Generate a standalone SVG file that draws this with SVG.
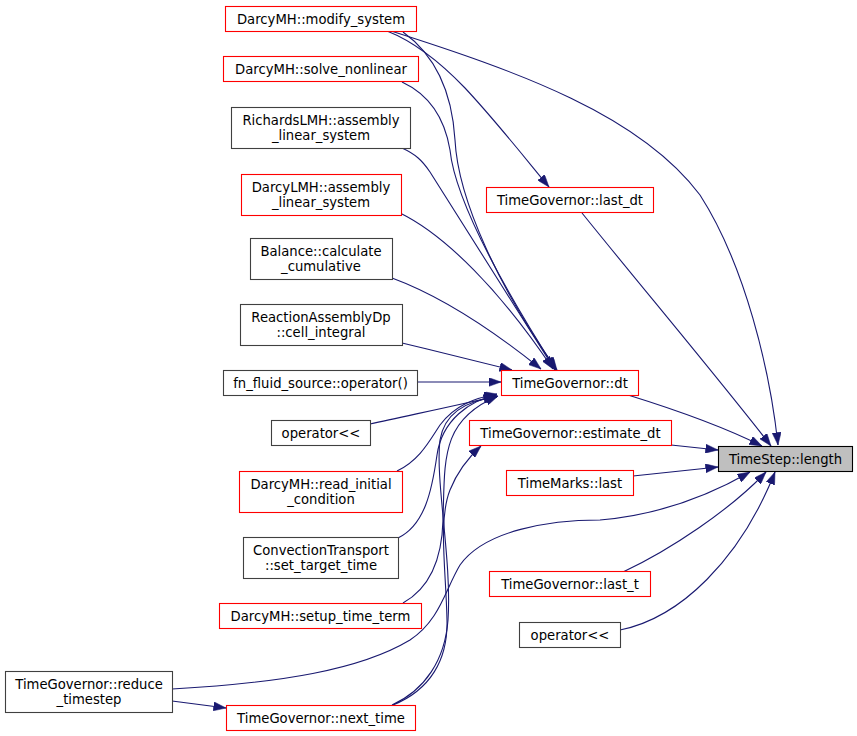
<svg xmlns="http://www.w3.org/2000/svg" width="857" height="736" viewBox="0 0 857 736">
<style>
.bg{fill:#ffffff}
.n rect{fill:#ffffff;stroke:#404040;stroke-width:1.1}
.n.r rect{stroke:#ff0000}
.n.root rect{fill:#bfbfbf;stroke:#000000}
.n text{font-family:"DejaVu Sans","Liberation Sans",sans-serif;font-size:13.2px;fill:#000000;text-anchor:middle}
.e path{fill:none;stroke:#191970;stroke-width:1.1;marker-end:url(#ah)}
</style>
<defs>
<marker id="ah" viewBox="0 0 12.5 9" refX="12.5" refY="4.5" markerWidth="12.5" markerHeight="9" markerUnits="userSpaceOnUse" orient="auto">
<path d="M0,0 L12.5,4.5 L0,9 z" fill="#191970" stroke="#191970" stroke-width="0.5"/>
</marker>
</defs>
<rect class="bg" x="0" y="0" width="857" height="736"/>
<g id="edges" class="e">
<path d="M388,30 C520,72 640,115 700,195 C745,265 770,370 778,445"/>
<path d="M387,31 C415,42 440,62 465,88 C495,120 525,158 549,187"/>
<path d="M403,32 C435,55 452,90 455,140 C458,200 500,290 557,370"/>
<path d="M402,82 C430,95 445,120 450,150 C455,200 505,290 556,370"/>
<path d="M402,148 C415,154 422,160 430,172 L555,370"/>
<path d="M400,213 C445,235 500,290 553,369"/>
<path d="M392,278 C430,292 480,320 541,369"/>
<path d="M402,343 C440,352 480,362 512,370"/>
<path d="M417,382 L501,382"/>
<path d="M370,424 C410,415 460,405 496,396"/>
<path d="M397,471 C420,460 430,440 440,425 C455,405 475,398 497,394"/>
<path d="M398,538 C425,525 432,490 437,455 C442,420 470,400 497,395"/>
<path d="M403,603 C430,588 442,560 443,520 C445,460 440,420 498,396"/>
<path d="M392,705 C425,690 445,660 448,620 C452,560 435,480 440,440 C445,410 470,400 497,397"/>
<path d="M393,705 C430,690 448,660 447,620 C446,570 438,520 450,490 C458,470 470,456 481,446"/>
<path d="M172,701 L226,708"/>
<path d="M172,689 C280,683 360,670 410,640 C440,620 445,590 460,565 C485,530 550,520 600,520 C660,515 710,495 750,472"/>
<path d="M628,395 C670,408 720,425 762,446"/>
<path d="M582,213 C640,285 720,380 771,446"/>
<path d="M671,445 L718,450"/>
<path d="M633,476 L718,467"/>
<path d="M623,572 C670,550 730,510 766,472"/>
<path d="M620,630 C680,618 740,560 775,472"/>
</g>
<g id="n_length" class="n root"><rect x="718.5" y="446.5" width="134" height="25"/><text x="785.5" y="463.5">TimeStep::length</text></g>
<g id="n_last_dt" class="n r"><rect x="486.5" y="187.5" width="167" height="25"/><text x="570" y="204.5">TimeGovernor::last_dt</text></g>
<g id="n_dt" class="n r"><rect x="501.5" y="370.5" width="137" height="25"/><text x="570" y="387.5">TimeGovernor::dt</text></g>
<g id="n_estimate_dt" class="n r"><rect x="469.5" y="420.5" width="202" height="25"/><text x="570.5" y="437.5">TimeGovernor::estimate_dt</text></g>
<g id="n_tm_last" class="n r"><rect x="506.5" y="470.5" width="127" height="25"/><text x="570" y="487.5">TimeMarks::last</text></g>
<g id="n_last_t" class="n r"><rect x="489.5" y="571.5" width="161" height="25"/><text x="570" y="588.5">TimeGovernor::last_t</text></g>
<g id="n_op_right" class="n"><rect x="519.5" y="622.5" width="101" height="25"/><text x="570" y="639.5">operator&lt;&lt;</text></g>
<g id="n_modify_system" class="n r"><rect x="225.5" y="6.5" width="191" height="25"/><text x="321" y="23.5">DarcyMH::modify_system</text></g>
<g id="n_solve_nonlinear" class="n r"><rect x="223.5" y="56.5" width="195" height="25"/><text x="321" y="73.5">DarcyMH::solve_nonlinear</text></g>
<g id="n_richards" class="n"><rect x="231.5" y="107.5" width="179" height="41"/><text x="321" y="124.5">RichardsLMH::assembly</text><text x="321" y="139.5">_linear_system</text></g>
<g id="n_darcylmh" class="n r"><rect x="241.5" y="174.5" width="160" height="41"/><text x="321" y="191.5">DarcyLMH::assembly</text><text x="321" y="206.5">_linear_system</text></g>
<g id="n_balance" class="n"><rect x="250.5" y="238.5" width="142" height="41"/><text x="321" y="255.5">Balance::calculate</text><text x="321" y="270.5">_cumulative</text></g>
<g id="n_reaction" class="n"><rect x="240.5" y="304.5" width="162" height="41"/><text x="321" y="321.5">ReactionAssemblyDp</text><text x="321" y="336.5">::cell_integral</text></g>
<g id="n_fn_fluid" class="n"><rect x="223.5" y="370.5" width="194" height="25"/><text x="320.5" y="387.5">fn_fluid_source::operator()</text></g>
<g id="n_op_left" class="n"><rect x="271.5" y="420.5" width="99" height="25"/><text x="321" y="437.5">operator&lt;&lt;</text></g>
<g id="n_read_initial" class="n r"><rect x="239.5" y="471.5" width="163" height="41"/><text x="321" y="488.5">DarcyMH::read_initial</text><text x="321" y="503.5">_condition</text></g>
<g id="n_convection" class="n"><rect x="243.5" y="537.5" width="155" height="41"/><text x="321" y="554.5">ConvectionTransport</text><text x="321" y="569.5">::set_target_time</text></g>
<g id="n_setup_time" class="n r"><rect x="219.5" y="603.5" width="202" height="25"/><text x="320.5" y="620.5">DarcyMH::setup_time_term</text></g>
<g id="n_next_time" class="n r"><rect x="226.5" y="705.5" width="189" height="25"/><text x="321" y="722.5">TimeGovernor::next_time</text></g>
<g id="n_reduce" class="n"><rect x="5.5" y="671.5" width="167" height="41"/><text x="89" y="688.5">TimeGovernor::reduce</text><text x="89" y="703.5">_timestep</text></g>
</svg>
